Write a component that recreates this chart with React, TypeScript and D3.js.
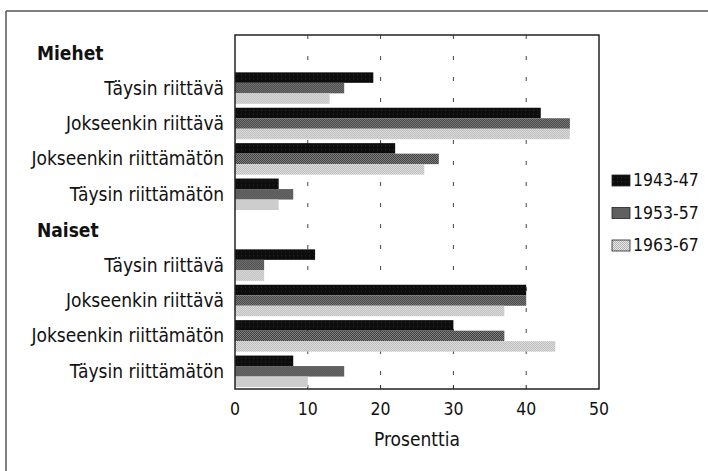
import React from "react";
import * as d3 from "d3";

const series = ["1943-47", "1953-57", "1963-67"];
const groups = ["Miehet", "Naiset"];
const categories = ["Täysin riittävä", "Jokseenkin riittävä", "Jokseenkin riittämätön", "Täysin riittämätön"];
const miehet1943 = [19, 42, 22, 6];
const miehet1953 = [15, 46, 28, 8];
const miehet1963 = [13, 46, 26, 6];
const naiset1943 = [11, 40, 30, 8];
const naiset1953 = [4, 40, 37, 15];
const naiset1963 = [4, 37, 44, 10];
const xTicks = [0, 10, 20, 30, 40, 50];
const xLabel = "Prosenttia";

const W = 708, H = 471;
const FONT = "'Liberation Sans Narrow', 'DejaVu Sans Condensed', 'Arial Narrow', sans-serif";

type Row = { key: string; label: string; header: boolean; values: number[] };
const rows: Row[] = [];
const groupData = [
  [miehet1943, miehet1953, miehet1963],
  [naiset1943, naiset1953, naiset1963],
];
groups.forEach((g, gi) => {
  rows.push({ key: g, label: g, header: true, values: [] });
  categories.forEach((c, ci) => {
    rows.push({ key: g + "-" + c, label: c, header: false, values: groupData[gi].map((s) => s[ci]) });
  });
});

const fills = ["url(#pBlack)", "url(#pDark)", "url(#pLight)"];

export default function App() {
  const left = 235, right = 599, top = 35, bottom = 389;
  const x = d3.scaleLinear().domain([0, 50]).range([left, right]);
  const y = d3.scaleBand<string>().domain(rows.map((r) => r.key)).range([top, bottom]).paddingInner(0.11).paddingOuter(0.055);
  const inner = d3.scaleBand<number>().domain([0, 1, 2]).range([0, y.bandwidth()]);

  return (
    <svg width={W} height={H} style={{ position: "absolute", left: 0, top: 0, background: "#fff" }} fontFamily={FONT}>
      <defs>
        <pattern id="pBlack" width="4" height="4" patternUnits="userSpaceOnUse">
          <rect width="4" height="4" fill="#0d0d0d" />
          <rect x="1" y="2" width="1" height="1" fill="#2a2a2a" />
        </pattern>
        <pattern id="pDark" width="2" height="2" patternUnits="userSpaceOnUse">
          <rect width="2" height="2" fill="#333" />
          <rect x="0" y="0" width="1" height="1" fill="#8c8c8c" />
          <rect x="1" y="1" width="1" height="1" fill="#8c8c8c" />
        </pattern>
        <pattern id="pLight" width="2" height="2" patternUnits="userSpaceOnUse">
          <rect width="2" height="2" fill="#e6e6e6" />
          <rect x="0" y="0" width="1" height="1" fill="#b4b4b4" />
          <rect x="1" y="1" width="1" height="1" fill="#b4b4b4" />
        </pattern>
      </defs>

      {/* outer frame */}
      <line x1={6} x2={W} y1={11} y2={11} stroke="#555" strokeWidth={1.5} />
      <line x1={6} x2={6} y1={11} y2={H} stroke="#555" strokeWidth={1.5} />

      {/* grid dashes */}
      {xTicks.slice(1, -1).map((t) => (
        <line key={"g" + t} x1={x(t)} x2={x(t)} y1={top} y2={bottom} stroke="#444" strokeWidth={1} strokeDasharray="4,17" />
      ))}
      {xTicks.slice(1, -1).map((t) => (
        <line key={"t" + t} x1={x(t)} x2={x(t)} y1={bottom - 4} y2={bottom} stroke="#222" strokeWidth={1} />
      ))}

      {/* bars */}
      {rows.filter((r) => !r.header).map((r) => (
        <g key={r.key} transform={`translate(0,${y(r.key)})`}>
          {r.values.map((v, i) => (
            <rect key={i} x={x(0)} y={inner(i)} width={x(v) - x(0)} height={inner.bandwidth()} fill={fills[i]} />
          ))}
        </g>
      ))}

      {/* plot frame */}
      <rect x={left} y={top} width={right - left} height={bottom - top} fill="none" stroke="#222" strokeWidth={1.5} />

      {/* row labels */}
      {rows.map((r) => {
        const cy = (y(r.key) as number) + y.bandwidth() / 2;
        return r.header ? (
          <text key={"l" + r.key} x={37} y={cy + 7} fontSize={19} fontWeight="bold" fill="#111">{r.label}</text>
        ) : (
          <text key={"l" + r.key} x={224} y={cy + 6.5} fontSize={19} textAnchor="end" fill="#111">{r.label}</text>
        );
      })}

      {/* x tick labels */}
      {xTicks.map((t) => (
        <text key={"x" + t} x={x(t)} y={415} fontSize={17.5} textAnchor="middle" fill="#111">{t}</text>
      ))}
      <text x={(left + right) / 2} y={446} fontSize={19} textAnchor="middle" fill="#111">{xLabel}</text>

      {/* legend */}
      {series.map((s, i) => (
        <g key={s} transform={`translate(612,${175 + i * 32.5})`}>
          <rect x={0} y={0} width={18} height={11} fill={fills[i]} stroke="#222" strokeWidth={0.8} />
          <text x={21} y={11} fontSize={17.5} fill="#111">{s}</text>
        </g>
      ))}
    </svg>
  );
}
